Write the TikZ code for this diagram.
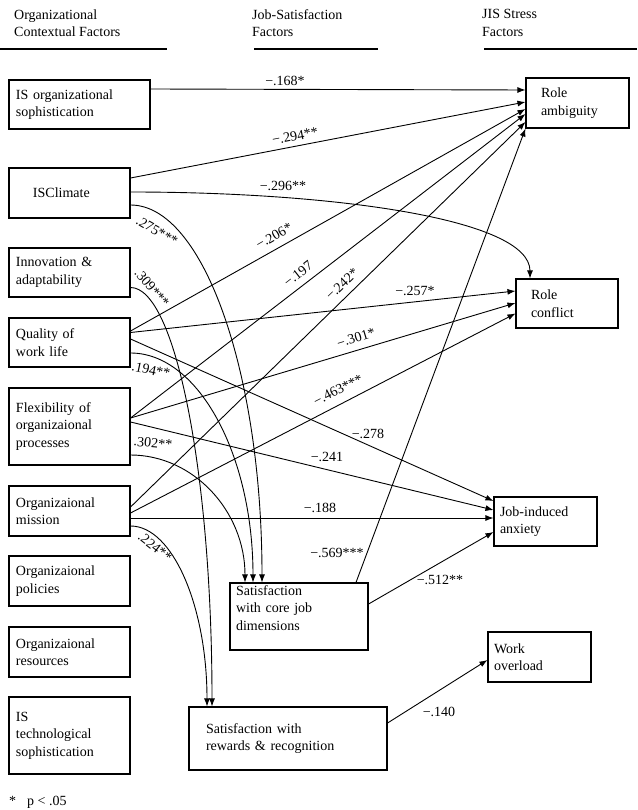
\documentclass[tikz,border=0pt]{standalone}
\usepackage{fontspec}
\setmainfont{Liberation Serif}
\usetikzlibrary{arrows.meta,calc}

\begin{document}
\begin{tikzpicture}[x=1pt,y=-1pt,font=\fontsize{14}{17.5}\selectfont,
  box/.style={draw,line width=1.1pt,align=left,inner xsep=7pt,inner ysep=1pt},
  lft/.style={box,minimum width=121pt,text width=107pt},
  hd/.style={align=left,anchor=west,inner sep=0pt},
  lbl/.style={inner sep=1pt},
  arr/.style={line width=0.9pt,-{Latex[length=8pt,width=6pt]}}]
\useasboundingbox (0,0) rectangle (637,810);
\node[hd] (hdorg) at (14,23) {Organizational\\Contextual Factors};
\node[hd] (hdsat) at (252,23) {Job-Satisfaction\\Factors};
\node[hd] (hdjis) at (482,23) {JIS Stress\\Factors};
\foreach \a/\b in {0/167,254/378,484/637}
  \draw[line width=1.1pt] (\a,49) -- (\b,49);
\node[box,minimum width=141pt,minimum height=49pt,text width=127pt] (isos) at (79.5,104.5) {IS organizational\\sophistication};
\node[lft,minimum height=50pt] (climate) at (69.5,193) {\hspace*{17pt}ISClimate};
\node[lft,minimum height=49pt] (innov) at (69.5,272.5) {Innovation \&\\adaptability};
\node[lft,minimum height=49pt] (qwl) at (69.5,342.5) {Quality of\\work life};
\node[lft,minimum height=77pt] (flex) at (69.5,426.5) {Flexibility of\\organizaional\\processes};
\node[lft,minimum height=50pt] (mission) at (69.5,511) {Organizaional\\mission};
\node[lft,minimum height=50pt] (policies) at (69.5,581) {Organizaional\\policies};
\node[lft,minimum height=50pt] (resources) at (69.5,652) {Organizaional\\resources};
\node[lft,minimum height=77pt] (istech) at (69.5,735.5) {IS\\technological\\sophistication};
\node[box,inner xsep=6pt,minimum width=138pt,minimum height=67pt,text width=126pt] (core) at (299,616.5) {Satisfaction\\with core job\\dimensions\\~};
\node[box,inner xsep=17pt,minimum width=198pt,minimum height=63pt,text width=164pt] (rewards) at (288,738.5) {Satisfaction with\\rewards \& recognition};
\node[box,inner xsep=15pt,minimum width=103pt,minimum height=50pt,text width=73pt] (ambig) at (577.5,103) {Role\\ambiguity};
\node[box,inner xsep=15pt,minimum width=102pt,minimum height=49pt,text width=72pt] (conflict) at (567,303.5) {Role\\conflict};
\node[box,inner xsep=6pt,minimum width=103pt,minimum height=49pt,text width=91pt] (anxiety) at (545.5,521.5) {Job-induced\\anxiety};
\node[box,inner xsep=6pt,minimum width=103pt,minimum height=50pt,text width=91pt] (overload) at (539.5,657) {Work\\overload};
\draw[arr] ($(isos.east)+(0,-15.5)$) -- ($(ambig.west)+(0,-13)$);
\draw[arr] ($(climate.east)+(0,-15)$) -- ($(ambig.west)+(0,-1)$);
\draw[arr] ($(climate.east)+(0,-1)$) .. controls +(200,0) and +(0,-60) .. ($(conflict.north)+(-37,0)$);
\draw[arr] ($(qwl.east)+(0,-11.5)$) -- ($(ambig.west)+(0,6)$);
\draw[arr] ($(flex.east)+(0,-8.5)$) -- ($(ambig.west)+(0,11)$);
\draw[arr] ($(mission.east)+(0,-4)$) -- ($(ambig.west)+(0,19)$);
\draw[arr] ($(core.north)+(57,0)$) -- (ambig.south west);
\draw[arr] ($(qwl.east)+(0,-10)$) -- ($(conflict.west)+(0,-12.5)$);
\draw[arr] ($(flex.east)+(0,-8.5)$) -- ($(conflict.west)+(0,-0.5)$);
\draw[arr] ($(mission.east)+(0,2)$) -- ($(conflict.west)+(0,10)$);
\draw[arr] ($(qwl.east)+(0,-3.5)$) -- ($(anxiety.west)+(0,-20.5)$);
\draw[arr] ($(flex.east)+(0,-4.5)$) -- ($(anxiety.west)+(0,-11.5)$);
\draw[arr] ($(mission.east)+(0,7)$) -- ($(anxiety.west)+(0,-3.5)$);
\draw[arr] ($(core.east)+(0,-12.5)$) -- ($(anxiety.west)+(0,10.5)$);
\draw[arr] ($(rewards.east)+(0,-15.5)$) -- ($(overload.west)+(0,3)$);
\draw[arr] ($(climate.east)+(0,12)$) .. controls +(73,0) and +(0,-209) .. ($(core.north)+(-37,0)$);
\draw[arr] ($(qwl.east)+(0,10.5)$) .. controls +(68,0) and +(0,-127) .. ($(core.north)+(-46,0)$);
\draw[arr] ($(flex.east)+(0,28.5)$) .. controls +(63,0) and +(0,-71) .. ($(core.north)+(-54,0)$);
\draw[arr] ($(innov.east)+(0,15)$) .. controls +(45,0) and +(0,-232) .. ($(rewards.north)+(-76,0)$);
\draw[arr] ($(mission.east)+(0,15)$) .. controls +(42,0) and +(0,-100) .. ($(rewards.north)+(-81,0)$);
\node[lbl] (l168) at (285,81) {−.168*};
\node[lbl,rotate=11] (l294) at (295,136) {−.294**};
\node[lbl] (l296) at (283,186) {−.296**};
\node[lbl,rotate=30] (l206) at (274,236) {−.206*};
\node[lbl,rotate=38] (l197) at (298,274) {−.197};
\node[lbl,rotate=44] (l242) at (342,284) {−.242*};
\node[lbl] (l257) at (415,291) {−.257*};
\node[lbl,rotate=17] (l301) at (356,338) {−.301*};
\node[lbl,rotate=27] (l463) at (338,390) {−.463***};
\node[lbl] (l278) at (368,434) {−.278};
\node[lbl] (l241) at (327,457) {−.241};
\node[lbl] (l188) at (320,508) {−.188};
\node[lbl] (l569) at (337,553) {−.569***};
\node[lbl] (l512) at (440,580) {−.512**};
\node[lbl] (l140) at (439,712) {−.140};
\node[lbl,rotate=-30] (l275) at (157,231) {.275***};
\node[lbl,rotate=-50] (l309) at (152,288) {.309***};
\node[lbl,rotate=-12] (l194) at (151,370) {.194**};
\node[lbl,rotate=-5] (l302) at (153,443) {.302**};
\node[lbl,rotate=-38] (l224) at (155,547) {.224**};
\node[lbl,anchor=west] (note) at (8,802) {*\hspace{11pt}p < .05};
\end{tikzpicture}
\end{document}
